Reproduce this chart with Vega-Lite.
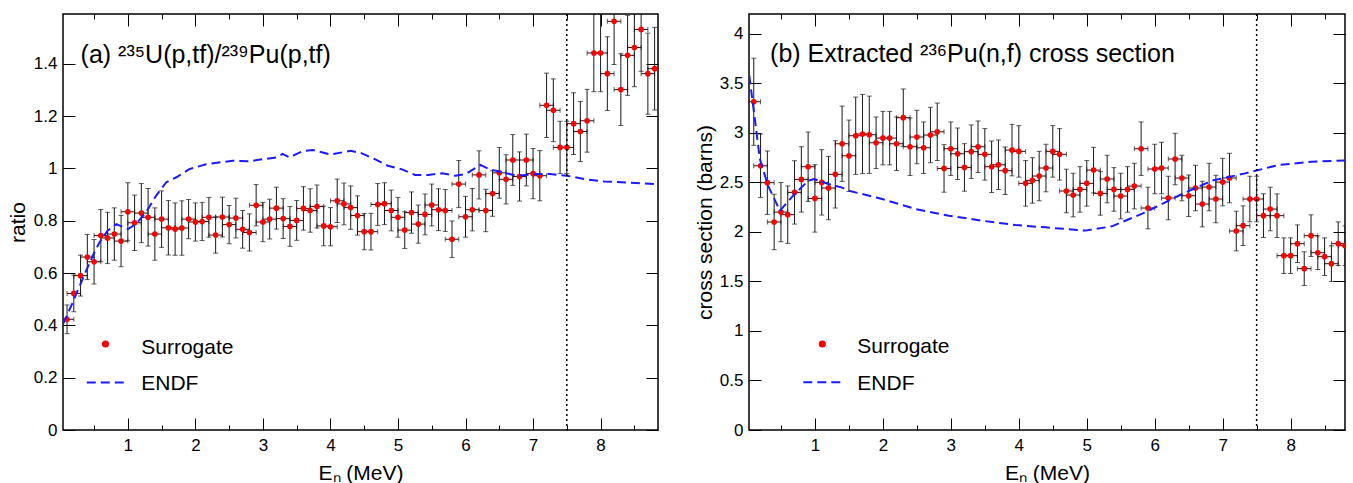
{
"$schema": "https://vega.github.io/schema/vega-lite/v6.json",
"padding": {"left": 6, "top": 12, "right": 0, "bottom": 0},
"spacing": 33,
"config": {
  "view": {"stroke": "black", "strokeWidth": 1.5},
  "font": "Liberation Sans",
  "axis": {"grid": false, "domain": false, "labelFont": "Liberation Sans", "labelFontSize": 17, "labelColor": "black", "tickColor": "black", "tickWidth": 1, "titleFont": "Liberation Sans", "titleFontSize": 21, "titleFontWeight": "normal", "titleColor": "black", "labelFlush": false}
},
"datasets": {
"a_pts": [
{"x":0.1,"y":0.423,"err":0.055,"xe":0.1},{"x":0.2,"y":0.522,"err":0.07,"xe":0.1},{"x":0.3,"y":0.590,"err":0.078,"xe":0.1},{"x":0.4,"y":0.661,"err":0.086,"xe":0.1},{"x":0.5,"y":0.643,"err":0.085,"xe":0.1},{"x":0.6,"y":0.743,"err":0.1,"xe":0.1},{"x":0.7,"y":0.734,"err":0.098,"xe":0.1},{"x":0.8,"y":0.749,"err":0.1,"xe":0.1},{"x":0.9,"y":0.722,"err":0.098,"xe":0.1},{"x":1.0,"y":0.834,"err":0.111,"xe":0.1},
{"x":1.1,"y":0.792,"err":0.106,"xe":0.1},{"x":1.2,"y":0.829,"err":0.113,"xe":0.1},{"x":1.3,"y":0.813,"err":0.11,"xe":0.1},{"x":1.4,"y":0.749,"err":0.1,"xe":0.1},{"x":1.5,"y":0.806,"err":0.108,"xe":0.1},{"x":1.6,"y":0.773,"err":0.104,"xe":0.1},{"x":1.7,"y":0.768,"err":0.1,"xe":0.1},{"x":1.8,"y":0.772,"err":0.104,"xe":0.1},{"x":1.9,"y":0.806,"err":0.075,"xe":0.1},{"x":2.0,"y":0.795,"err":0.073,"xe":0.1},
{"x":2.1,"y":0.797,"err":0.073,"xe":0.1},{"x":2.2,"y":0.813,"err":0.076,"xe":0.1},{"x":2.3,"y":0.745,"err":0.069,"xe":0.1},{"x":2.4,"y":0.814,"err":0.076,"xe":0.1},{"x":2.5,"y":0.785,"err":0.073,"xe":0.1},{"x":2.6,"y":0.810,"err":0.076,"xe":0.1},{"x":2.7,"y":0.767,"err":0.072,"xe":0.1},{"x":2.8,"y":0.755,"err":0.071,"xe":0.1},{"x":2.9,"y":0.859,"err":0.079,"xe":0.1},{"x":3.0,"y":0.795,"err":0.075,"xe":0.1},
{"x":3.1,"y":0.806,"err":0.076,"xe":0.1},{"x":3.2,"y":0.848,"err":0.08,"xe":0.1},{"x":3.3,"y":0.808,"err":0.076,"xe":0.1},{"x":3.4,"y":0.778,"err":0.076,"xe":0.1},{"x":3.5,"y":0.801,"err":0.076,"xe":0.1},{"x":3.6,"y":0.847,"err":0.083,"xe":0.1},{"x":3.7,"y":0.839,"err":0.083,"xe":0.1},{"x":3.8,"y":0.854,"err":0.082,"xe":0.1},{"x":3.9,"y":0.780,"err":0.076,"xe":0.1},{"x":4.0,"y":0.777,"err":0.073,"xe":0.1},
{"x":4.1,"y":0.876,"err":0.083,"xe":0.1},{"x":4.2,"y":0.864,"err":0.08,"xe":0.1},{"x":4.3,"y":0.850,"err":0.083,"xe":0.1},{"x":4.4,"y":0.820,"err":0.075,"xe":0.1},{"x":4.5,"y":0.758,"err":0.069,"xe":0.1},{"x":4.6,"y":0.758,"err":0.07,"xe":0.1},{"x":4.7,"y":0.862,"err":0.08,"xe":0.1},{"x":4.8,"y":0.865,"err":0.08,"xe":0.1},{"x":4.9,"y":0.839,"err":0.078,"xe":0.1},{"x":5.0,"y":0.813,"err":0.076,"xe":0.1},
{"x":5.1,"y":0.764,"err":0.07,"xe":0.1},{"x":5.2,"y":0.831,"err":0.079,"xe":0.1},{"x":5.3,"y":0.787,"err":0.073,"xe":0.1},{"x":5.4,"y":0.824,"err":0.078,"xe":0.1},{"x":5.5,"y":0.860,"err":0.08,"xe":0.1},{"x":5.6,"y":0.842,"err":0.08,"xe":0.1},{"x":5.7,"y":0.839,"err":0.08,"xe":0.1},{"x":5.8,"y":0.729,"err":0.07,"xe":0.1},{"x":5.9,"y":0.940,"err":0.09,"xe":0.1},{"x":6.0,"y":0.815,"err":0.078,"xe":0.1},
{"x":6.1,"y":0.842,"err":0.081,"xe":0.1},{"x":6.2,"y":0.975,"err":0.092,"xe":0.1},{"x":6.3,"y":0.839,"err":0.081,"xe":0.1},{"x":6.4,"y":0.904,"err":0.087,"xe":0.1},{"x":6.5,"y":0.983,"err":0.097,"xe":0.1},{"x":6.6,"y":0.958,"err":0.094,"xe":0.1},{"x":6.7,"y":1.032,"err":0.097,"xe":0.1},{"x":6.8,"y":0.969,"err":0.094,"xe":0.1},{"x":6.9,"y":1.032,"err":0.099,"xe":0.1},{"x":7.0,"y":0.980,"err":0.096,"xe":0.1},
{"x":7.1,"y":0.972,"err":0.096,"xe":0.1},{"x":7.2,"y":1.241,"err":0.123,"xe":0.1},{"x":7.3,"y":1.222,"err":0.12,"xe":0.1},{"x":7.4,"y":1.080,"err":0.1,"xe":0.1},{"x":7.5,"y":1.080,"err":0.1,"xe":0.1},{"x":7.6,"y":1.171,"err":0.118,"xe":0.1},{"x":7.7,"y":1.141,"err":0.115,"xe":0.1},{"x":7.8,"y":1.182,"err":0.12,"xe":0.1},{"x":7.9,"y":1.441,"err":0.148,"xe":0.1},{"x":8.0,"y":1.441,"err":0.148,"xe":0.1},
{"x":8.1,"y":1.362,"err":0.141,"xe":0.1},{"x":8.2,"y":1.562,"err":0.165,"xe":0.1},{"x":8.3,"y":1.301,"err":0.137,"xe":0.1},{"x":8.4,"y":1.432,"err":0.153,"xe":0.1},{"x":8.5,"y":1.462,"err":0.15,"xe":0.1},{"x":8.6,"y":1.531,"err":0.16,"xe":0.1},{"x":8.7,"y":1.362,"err":0.155,"xe":0.1},{"x":8.8,"y":1.381,"err":0.158,"xe":0.1}
],
"a_endf": [
{"x":0.04,"y":0.405},{"x":0.185,"y":0.488},{"x":0.33,"y":0.577},{"x":0.48,"y":0.666},{"x":0.58,"y":0.717},{"x":0.70,"y":0.762},{"x":0.83,"y":0.787},{"x":1.0,"y":0.768},{"x":1.12,"y":0.787},{"x":1.27,"y":0.832},{"x":1.42,"y":0.896},{"x":1.57,"y":0.947},{"x":1.72,"y":0.966},{"x":1.91,"y":0.997},{"x":2.16,"y":1.016},{"x":2.55,"y":1.029},{"x":2.80,"y":1.027},{"x":3.0,"y":1.035},{"x":3.20,"y":1.042},{"x":3.29,"y":1.055},{"x":3.39,"y":1.042},{"x":3.6,"y":1.067},{"x":3.74,"y":1.070},{"x":3.9,"y":1.060},{"x":4.0,"y":1.053},{"x":4.3,"y":1.067},{"x":4.45,"y":1.059},{"x":4.65,"y":1.036},{"x":4.85,"y":1.010},{"x":5.05,"y":0.997},{"x":5.25,"y":0.975},{"x":5.45,"y":0.975},{"x":5.65,"y":0.981},{"x":5.85,"y":0.972},{"x":6.0,"y":0.978},{"x":6.12,"y":0.997},{"x":6.22,"y":1.013},{"x":6.35,"y":0.997},{"x":6.55,"y":0.985},{"x":6.75,"y":0.972},{"x":7.05,"y":0.978},{"x":7.25,"y":0.978},{"x":7.5,"y":0.972},{"x":7.8,"y":0.957},{"x":8.05,"y":0.950},{"x":8.4,"y":0.946},{"x":8.8,"y":0.940}
],
"b_pts": [
{"x":0.1,"y":3.314,"err":0.44,"xe":0.1},{"x":0.2,"y":2.668,"err":0.32,"xe":0.1},{"x":0.3,"y":2.497,"err":0.32,"xe":0.1},{"x":0.4,"y":2.100,"err":0.28,"xe":0.1},{"x":0.5,"y":2.200,"err":0.3,"xe":0.1},{"x":0.6,"y":2.174,"err":0.29,"xe":0.1},{"x":0.7,"y":2.399,"err":0.32,"xe":0.1},{"x":0.8,"y":2.530,"err":0.33,"xe":0.1},{"x":0.9,"y":2.658,"err":0.35,"xe":0.1},{"x":1.0,"y":2.338,"err":0.34,"xe":0.1},
{"x":1.1,"y":2.500,"err":0.33,"xe":0.1},{"x":1.2,"y":2.443,"err":0.32,"xe":0.1},{"x":1.3,"y":2.581,"err":0.34,"xe":0.1},{"x":1.4,"y":2.890,"err":0.38,"xe":0.1},{"x":1.5,"y":2.769,"err":0.36,"xe":0.1},{"x":1.6,"y":2.971,"err":0.39,"xe":0.1},{"x":1.7,"y":2.988,"err":0.40,"xe":0.1},{"x":1.8,"y":2.981,"err":0.39,"xe":0.1},{"x":1.9,"y":2.900,"err":0.26,"xe":0.1},{"x":2.0,"y":2.947,"err":0.27,"xe":0.1},
{"x":2.1,"y":2.947,"err":0.27,"xe":0.1},{"x":2.2,"y":2.890,"err":0.27,"xe":0.1},{"x":2.3,"y":3.153,"err":0.29,"xe":0.1},{"x":2.4,"y":2.860,"err":0.29,"xe":0.1},{"x":2.5,"y":2.958,"err":0.27,"xe":0.1},{"x":2.6,"y":2.850,"err":0.26,"xe":0.1},{"x":2.7,"y":2.978,"err":0.28,"xe":0.1},{"x":2.8,"y":3.011,"err":0.29,"xe":0.1},{"x":2.9,"y":2.641,"err":0.24,"xe":0.1},{"x":3.0,"y":2.840,"err":0.27,"xe":0.1},
{"x":3.1,"y":2.789,"err":0.26,"xe":0.1},{"x":3.2,"y":2.651,"err":0.24,"xe":0.1},{"x":3.3,"y":2.810,"err":0.27,"xe":0.1},{"x":3.4,"y":2.860,"err":0.26,"xe":0.1},{"x":3.5,"y":2.783,"err":0.26,"xe":0.1},{"x":3.6,"y":2.658,"err":0.26,"xe":0.1},{"x":3.7,"y":2.678,"err":0.25,"xe":0.1},{"x":3.8,"y":2.618,"err":0.24,"xe":0.1},{"x":3.9,"y":2.826,"err":0.26,"xe":0.1},{"x":4.0,"y":2.813,"err":0.26,"xe":0.1},
{"x":4.1,"y":2.490,"err":0.23,"xe":0.1},{"x":4.2,"y":2.520,"err":0.23,"xe":0.1},{"x":4.3,"y":2.564,"err":0.25,"xe":0.1},{"x":4.4,"y":2.645,"err":0.24,"xe":0.1},{"x":4.5,"y":2.813,"err":0.26,"xe":0.1},{"x":4.6,"y":2.783,"err":0.26,"xe":0.1},{"x":4.7,"y":2.413,"err":0.22,"xe":0.1},{"x":4.8,"y":2.372,"err":0.22,"xe":0.1},{"x":4.9,"y":2.429,"err":0.23,"xe":0.1},{"x":5.0,"y":2.490,"err":0.23,"xe":0.1},
{"x":5.1,"y":2.624,"err":0.23,"xe":0.1},{"x":5.2,"y":2.389,"err":0.22,"xe":0.1},{"x":5.3,"y":2.534,"err":0.24,"xe":0.1},{"x":5.4,"y":2.429,"err":0.22,"xe":0.1},{"x":5.5,"y":2.362,"err":0.23,"xe":0.1},{"x":5.6,"y":2.429,"err":0.23,"xe":0.1},{"x":5.7,"y":2.463,"err":0.23,"xe":0.1},{"x":5.8,"y":2.840,"err":0.27,"xe":0.1},{"x":5.9,"y":2.241,"err":0.21,"xe":0.1},{"x":6.0,"y":2.635,"err":0.25,"xe":0.1},
{"x":6.1,"y":2.645,"err":0.26,"xe":0.1},{"x":6.2,"y":2.342,"err":0.22,"xe":0.1},{"x":6.3,"y":2.736,"err":0.26,"xe":0.1},{"x":6.4,"y":2.544,"err":0.23,"xe":0.1},{"x":6.5,"y":2.365,"err":0.21,"xe":0.1},{"x":6.6,"y":2.443,"err":0.23,"xe":0.1},{"x":6.7,"y":2.281,"err":0.23,"xe":0.1},{"x":6.8,"y":2.453,"err":0.24,"xe":0.1},{"x":6.9,"y":2.332,"err":0.24,"xe":0.1},{"x":7.0,"y":2.503,"err":0.24,"xe":0.1},
{"x":7.1,"y":2.544,"err":0.25,"xe":0.1},{"x":7.2,"y":2.009,"err":0.2,"xe":0.1},{"x":7.3,"y":2.063,"err":0.2,"xe":0.1},{"x":7.4,"y":2.332,"err":0.23,"xe":0.1},{"x":7.5,"y":2.332,"err":0.23,"xe":0.1},{"x":7.6,"y":2.164,"err":0.22,"xe":0.1},{"x":7.7,"y":2.231,"err":0.22,"xe":0.1},{"x":7.8,"y":2.164,"err":0.22,"xe":0.1},{"x":7.9,"y":1.760,"err":0.18,"xe":0.1},{"x":8.0,"y":1.760,"err":0.18,"xe":0.1},
{"x":8.1,"y":1.881,"err":0.19,"xe":0.1},{"x":8.2,"y":1.629,"err":0.17,"xe":0.1},{"x":8.3,"y":1.962,"err":0.21,"xe":0.1},{"x":8.4,"y":1.790,"err":0.17,"xe":0.1},{"x":8.5,"y":1.750,"err":0.19,"xe":0.1},{"x":8.6,"y":1.679,"err":0.18,"xe":0.1},{"x":8.7,"y":1.881,"err":0.22,"xe":0.1},{"x":8.8,"y":1.861,"err":0.2,"xe":0.1}
],
"b_endf": [
{"x":0.034,"y":3.58},{"x":0.116,"y":3.139},{"x":0.19,"y":2.735},{"x":0.31,"y":2.467},{"x":0.485,"y":2.214},{"x":0.657,"y":2.349},{"x":0.90,"y":2.517},{"x":0.99,"y":2.534},{"x":1.197,"y":2.483},{"x":1.39,"y":2.45},{"x":1.5,"y":2.416},{"x":1.99,"y":2.332},{"x":2.48,"y":2.231},{"x":2.97,"y":2.164},{"x":3.46,"y":2.113},{"x":3.95,"y":2.069},{"x":4.39,"y":2.046},{"x":4.98,"y":2.013},{"x":5.37,"y":2.056},{"x":5.86,"y":2.197},{"x":6.35,"y":2.365},{"x":6.84,"y":2.517},{"x":7.33,"y":2.591},{"x":7.82,"y":2.675},{"x":8.31,"y":2.709},{"x":8.8,"y":2.722}
]
},
"hconcat": [
{
  "width": 595, "height": 416,
  "resolve": {"axis": {"x": "independent", "y": "independent"}},
  "layer": [
    {"data": {"name": "a_pts"}, "mark": {"type": "errorbar", "ticks": {"size": 5, "color": "#1a1a1a"}, "color": "#1a1a1a", "thickness": 1, "clip": true},
     "encoding": {"x": {"field": "x", "type": "quantitative", "axis": null, "scale": {"domain": [0.04, 8.85], "nice": false, "zero": false}}, "y": {"field": "y", "type": "quantitative", "axis": null, "scale": {"domain": [0, 1.59], "nice": false, "zero": false}}, "yError": {"field": "err"}}},
    {"data": {"name": "a_pts"}, "mark": {"type": "errorbar", "ticks": {"size": 5, "color": "#1a1a1a"}, "color": "#1a1a1a", "thickness": 1, "clip": true},
     "encoding": {"y": {"field": "y", "type": "quantitative", "axis": null}, "x": {"field": "x", "type": "quantitative", "axis": null}, "xError": {"field": "xe"}}},
    {"data": {"name": "a_pts"}, "mark": {"type": "point", "filled": true, "size": 32, "color": "#ff0000", "opacity": 1, "clip": true},
     "encoding": {
       "x": {"field": "x", "type": "quantitative", "scale": {"domain": [0.04, 8.85], "nice": false, "zero": false}, "axis": {"orient": "bottom", "values": [1,2,3,4,5,6,7,8], "format": "~g", "tickSize": -12, "labelPadding": 19, "title": "Eₙ (MeV)", "titleY": 49, "titleBaseline": "alphabetic"}},
       "y": {"field": "y", "type": "quantitative", "scale": {"domain": [0, 1.59], "nice": false, "zero": false}, "axis": {"orient": "left", "values": [0,0.2,0.4,0.6,0.8,1,1.2,1.4], "format": "~g", "tickSize": -12, "labelPadding": 18, "title": "ratio", "titleX": -39, "titleBaseline": "alphabetic"}}}},
    {"data": {"name": "a_endf"}, "mark": {"type": "line", "color": "#1a1aff", "strokeWidth": 2, "strokeDash": [9, 5], "clip": true},
     "encoding": {
       "x": {"field": "x", "type": "quantitative", "axis": {"orient": "top", "values": [1,2,3,4,5,6,7,8], "tickSize": -12, "labels": false, "title": null}},
       "y": {"field": "y", "type": "quantitative", "axis": {"orient": "right", "values": [0,0.2,0.4,0.6,0.8,1,1.2,1.4], "tickSize": -12, "labels": false, "title": null}}}},
    {"data": {"values": [{}]}, "mark": {"type": "rule", "color": "black", "strokeWidth": 1.5, "strokeDash": [2, 3]},
     "encoding": {"x": {"datum": 7.5, "type": "quantitative", "axis": {"orient": "bottom", "values": [0.5,1.5,2.5,3.5,4.5,5.5,6.5,7.5,8.5], "tickSize": -5, "labels": false, "title": null}}}},
    {"data": {"values": [{}]}, "mark": {"type": "point", "filled": true, "size": 50, "color": "#ff0000", "opacity": 1},
     "encoding": {"x": {"datum": 0.669, "type": "quantitative", "axis": {"orient": "top", "values": [0.5,1.5,2.5,3.5,4.5,5.5,6.5,7.5,8.5], "tickSize": -5, "labels": false, "title": null}}, "y": {"datum": 0.329, "type": "quantitative", "axis": null}}},
    {"data": {"values": [{}]}, "mark": {"type": "rule", "color": "#1a1aff", "strokeWidth": 2, "strokeDash": [9, 5]},
     "encoding": {"x": {"datum": 0.392, "type": "quantitative", "axis": null}, "x2": {"datum": 0.951}, "y": {"datum": 0.182, "type": "quantitative", "axis": null}}},
    {"data": {"values": [{}]}, "mark": {"type": "text", "align": "left", "baseline": "alphabetic", "fontSize": 21, "font": "Liberation Sans", "color": "black"},
     "encoding": {"x": {"datum": 1.198, "type": "quantitative", "axis": null}, "y": {"datum": 0.29, "type": "quantitative", "axis": null}, "text": {"value": "Surrogate"}}},
    {"data": {"values": [{}]}, "mark": {"type": "text", "align": "left", "baseline": "alphabetic", "fontSize": 21, "font": "Liberation Sans", "color": "black"},
     "encoding": {"x": {"datum": 1.198, "type": "quantitative", "axis": null}, "y": {"datum": 0.152, "type": "quantitative", "axis": null}, "text": {"value": "ENDF"}}},
    {"data": {"values": [{}]}, "mark": {"type": "text", "align": "left", "baseline": "alphabetic", "fontSize": 25, "font": "Liberation Sans", "color": "black"},
     "encoding": {"x": {"datum": 0.30, "type": "quantitative", "axis": null}, "y": {"datum": 1.402, "type": "quantitative", "axis": null}, "text": {"value": "(a) ²³⁵U(p,tf)/²³⁹Pu(p,tf)"}}}
  ]
},
{
  "width": 596, "height": 416,
  "resolve": {"axis": {"x": "independent", "y": "independent"}},
  "layer": [
    {"data": {"name": "b_pts"}, "mark": {"type": "errorbar", "ticks": {"size": 5, "color": "#1a1a1a"}, "color": "#1a1a1a", "thickness": 1, "clip": true},
     "encoding": {"x": {"field": "x", "type": "quantitative", "axis": null, "scale": {"domain": [0.03, 8.8], "nice": false, "zero": false}}, "y": {"field": "y", "type": "quantitative", "axis": null, "scale": {"domain": [0, 4.2], "nice": false, "zero": false}}, "yError": {"field": "err"}}},
    {"data": {"name": "b_pts"}, "mark": {"type": "errorbar", "ticks": {"size": 5, "color": "#1a1a1a"}, "color": "#1a1a1a", "thickness": 1, "clip": true},
     "encoding": {"y": {"field": "y", "type": "quantitative", "axis": null}, "x": {"field": "x", "type": "quantitative", "axis": null}, "xError": {"field": "xe"}}},
    {"data": {"name": "b_pts"}, "mark": {"type": "point", "filled": true, "size": 32, "color": "#ff0000", "opacity": 1, "clip": true},
     "encoding": {
       "x": {"field": "x", "type": "quantitative", "scale": {"domain": [0.03, 8.8], "nice": false, "zero": false}, "axis": {"orient": "bottom", "values": [1,2,3,4,5,6,7,8], "format": "~g", "tickSize": -12, "labelPadding": 19, "title": "Eₙ (MeV)", "titleY": 49, "titleBaseline": "alphabetic"}},
       "y": {"field": "y", "type": "quantitative", "scale": {"domain": [0, 4.2], "nice": false, "zero": false}, "axis": {"orient": "left", "values": [0,0.5,1,1.5,2,2.5,3,3.5,4], "format": "~g", "tickSize": -12, "labelPadding": 18, "title": "cross section (barns)", "titleX": -38, "titleBaseline": "alphabetic"}}}},
    {"data": {"name": "b_endf"}, "mark": {"type": "line", "color": "#1a1aff", "strokeWidth": 2, "strokeDash": [9, 5], "clip": true},
     "encoding": {
       "x": {"field": "x", "type": "quantitative", "axis": {"orient": "top", "values": [1,2,3,4,5,6,7,8], "tickSize": -12, "labels": false, "title": null}},
       "y": {"field": "y", "type": "quantitative", "axis": {"orient": "right", "values": [0,0.5,1,1.5,2,2.5,3,3.5,4], "tickSize": -12, "labels": false, "title": null}}}},
    {"data": {"values": [{}]}, "mark": {"type": "rule", "color": "black", "strokeWidth": 1.5, "strokeDash": [2, 3]},
     "encoding": {"x": {"datum": 7.5, "type": "quantitative", "axis": {"orient": "bottom", "values": [0.5,1.5,2.5,3.5,4.5,5.5,6.5,7.5,8.5], "tickSize": -5, "labels": false, "title": null}}}},
    {"data": {"values": [{}]}, "mark": {"type": "point", "filled": true, "size": 50, "color": "#ff0000", "opacity": 1},
     "encoding": {"x": {"datum": 1.109, "type": "quantitative", "axis": {"orient": "top", "values": [0.5,1.5,2.5,3.5,4.5,5.5,6.5,7.5,8.5], "tickSize": -5, "labels": false, "title": null}}, "y": {"datum": 0.868, "type": "quantitative", "axis": null}}},
    {"data": {"values": [{}]}, "mark": {"type": "rule", "color": "#1a1aff", "strokeWidth": 2, "strokeDash": [9, 5]},
     "encoding": {"x": {"datum": 0.829, "type": "quantitative", "axis": null}, "x2": {"datum": 1.383}, "y": {"datum": 0.481, "type": "quantitative", "axis": null}}},
    {"data": {"values": [{}]}, "mark": {"type": "text", "align": "left", "baseline": "alphabetic", "fontSize": 21, "font": "Liberation Sans", "color": "black"},
     "encoding": {"x": {"datum": 1.624, "type": "quantitative", "axis": null}, "y": {"datum": 0.774, "type": "quantitative", "axis": null}, "text": {"value": "Surrogate"}}},
    {"data": {"values": [{}]}, "mark": {"type": "text", "align": "left", "baseline": "alphabetic", "fontSize": 21, "font": "Liberation Sans", "color": "black"},
     "encoding": {"x": {"datum": 1.624, "type": "quantitative", "axis": null}, "y": {"datum": 0.401, "type": "quantitative", "axis": null}, "text": {"value": "ENDF"}}},
    {"data": {"values": [{}]}, "mark": {"type": "text", "align": "left", "baseline": "alphabetic", "fontSize": 25, "font": "Liberation Sans", "color": "black"},
     "encoding": {"x": {"datum": 0.34, "type": "quantitative", "axis": null}, "y": {"datum": 3.711, "type": "quantitative", "axis": null}, "text": {"value": "(b) Extracted ²³⁶Pu(n,f) cross section"}}}
  ]
}
]
}
